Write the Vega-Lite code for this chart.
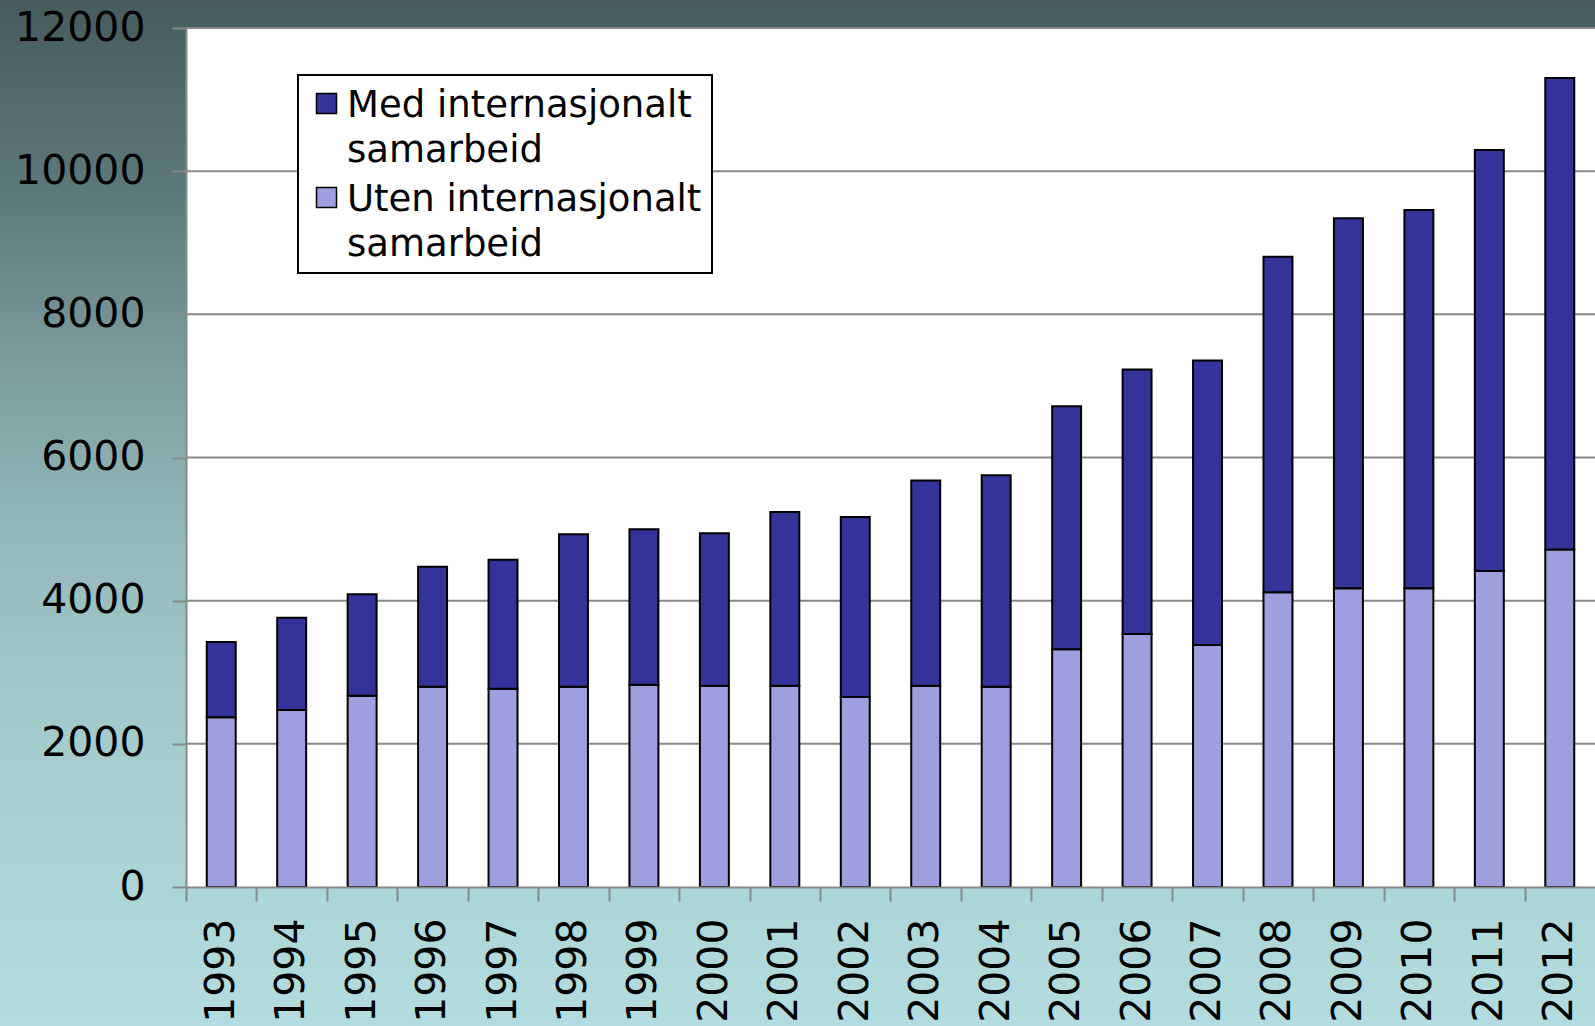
{
  "$schema": "https://vega.github.io/schema/vega-lite/v6.json",
  "width": 1409,
  "height": 859,
  "autosize": {"type": "none"},
  "padding": {"left": 186, "top": 28, "right": 0, "bottom": 139},
  "background": "#8ab3b5",
  "config": {
    "view": {"stroke": null, "fill": null},
    "font": "DejaVu Sans",
    "axisX": {
      "labelAngle": -90,
      "labelFontSize": 41,
      "labelColor": "black",
      "labelPadding": 17,
      "tickSize": 14,
      "tickColor": "#888888",
      "tickWidth": 2,
      "domainColor": "#888888",
      "domainWidth": 2,
      "grid": false
    },
    "axisY": {
      "grid": false,
      "labelFontSize": 41,
      "labelColor": "black",
      "labelPadding": 27,
      "tickSize": 14,
      "tickColor": "#888888",
      "tickWidth": 2,
      "domainColor": "#888888",
      "domainWidth": 2
    }
  },
  "datasets": {
    "counts": [
      {"year": "1993", "serie": "Uten internasjonalt samarbeid", "value": 2371},
      {"year": "1993", "serie": "Med internasjonalt samarbeid", "value": 1051},
      {"year": "1994", "serie": "Uten internasjonalt samarbeid", "value": 2471},
      {"year": "1994", "serie": "Med internasjonalt samarbeid", "value": 1292},
      {"year": "1995", "serie": "Uten internasjonalt samarbeid", "value": 2670},
      {"year": "1995", "serie": "Med internasjonalt samarbeid", "value": 1420},
      {"year": "1996", "serie": "Uten internasjonalt samarbeid", "value": 2797},
      {"year": "1996", "serie": "Med internasjonalt samarbeid", "value": 1676},
      {"year": "1997", "serie": "Uten internasjonalt samarbeid", "value": 2769},
      {"year": "1997", "serie": "Med internasjonalt samarbeid", "value": 1804},
      {"year": "1998", "serie": "Uten internasjonalt samarbeid", "value": 2797},
      {"year": "1998", "serie": "Med internasjonalt samarbeid", "value": 2130},
      {"year": "1999", "serie": "Uten internasjonalt samarbeid", "value": 2826},
      {"year": "1999", "serie": "Med internasjonalt samarbeid", "value": 2172},
      {"year": "2000", "serie": "Uten internasjonalt samarbeid", "value": 2812},
      {"year": "2000", "serie": "Med internasjonalt samarbeid", "value": 2130},
      {"year": "2001", "serie": "Uten internasjonalt samarbeid", "value": 2812},
      {"year": "2001", "serie": "Med internasjonalt samarbeid", "value": 2428},
      {"year": "2002", "serie": "Uten internasjonalt samarbeid", "value": 2655},
      {"year": "2002", "serie": "Med internasjonalt samarbeid", "value": 2514},
      {"year": "2003", "serie": "Uten internasjonalt samarbeid", "value": 2812},
      {"year": "2003", "serie": "Med internasjonalt samarbeid", "value": 2868},
      {"year": "2004", "serie": "Uten internasjonalt samarbeid", "value": 2797},
      {"year": "2004", "serie": "Med internasjonalt samarbeid", "value": 2954},
      {"year": "2005", "serie": "Uten internasjonalt samarbeid", "value": 3323},
      {"year": "2005", "serie": "Med internasjonalt samarbeid", "value": 3394},
      {"year": "2006", "serie": "Uten internasjonalt samarbeid", "value": 3536},
      {"year": "2006", "serie": "Med internasjonalt samarbeid", "value": 3692},
      {"year": "2007", "serie": "Uten internasjonalt samarbeid", "value": 3380},
      {"year": "2007", "serie": "Med internasjonalt samarbeid", "value": 3976},
      {"year": "2008", "serie": "Uten internasjonalt samarbeid", "value": 4118},
      {"year": "2008", "serie": "Med internasjonalt samarbeid", "value": 4686},
      {"year": "2009", "serie": "Uten internasjonalt samarbeid", "value": 4175},
      {"year": "2009", "serie": "Med internasjonalt samarbeid", "value": 5169},
      {"year": "2010", "serie": "Uten internasjonalt samarbeid", "value": 4175},
      {"year": "2010", "serie": "Med internasjonalt samarbeid", "value": 5282},
      {"year": "2011", "serie": "Uten internasjonalt samarbeid", "value": 4416},
      {"year": "2011", "serie": "Med internasjonalt samarbeid", "value": 5879},
      {"year": "2012", "serie": "Uten internasjonalt samarbeid", "value": 4714},
      {"year": "2012", "serie": "Med internasjonalt samarbeid", "value": 6589}
    ],
    "gridlines": [
      {"v": 2000}, {"v": 4000}, {"v": 6000}, {"v": 8000}, {"v": 10000}, {"v": 12000}
    ],
    "frame": [{}]
  },
  "layer": [
    {
      "data": {"name": "frame"},
      "mark": {
        "type": "rect",
        "clip": false,
        "fill": {
          "gradient": "linear",
          "x1": 0, "y1": 0, "x2": 0, "y2": 1,
          "stops": [
            {"offset": 0, "color": "#445a5c"},
            {"offset": 0.014, "color": "#465c5e"},
            {"offset": 0.204, "color": "#5f7b7d"},
            {"offset": 0.346, "color": "#7c9b9c"},
            {"offset": 0.488, "color": "#90b6b7"},
            {"offset": 0.631, "color": "#a0c6c7"},
            {"offset": 0.773, "color": "#a9d2d3"},
            {"offset": 0.963, "color": "#b2dcdd"},
            {"offset": 1, "color": "#b3dddf"}
          ]
        }
      },
      "encoding": {
        "x": {"datum": "1993", "type": "ordinal", "bandPosition": -8, "axis": {"title": null, "zindex": 1, "tickOffset": -35.225, "labelOffset": 35.225}},
        "x2": {"datum": "2012", "bandPosition": 8},
        "y": {"datum": -2500, "type": "quantitative", "axis": {"title": null, "zindex": 1, "values": [0, 2000, 4000, 6000, 8000, 10000, 12000], "format": "d"}},
        "y2": {"datum": 12600}
      }
    },
    {
      "data": {"name": "frame"},
      "mark": {"type": "rect", "fill": "white"},
      "encoding": {
        "y": {"datum": 0, "type": "quantitative", "axis": {"title": null, "zindex": 1, "values": [0, 2000, 4000, 6000, 8000, 10000, 12000], "format": "d"}},
        "y2": {"datum": 12000}
      }
    },
    {
      "data": {"name": "gridlines"},
      "mark": {"type": "rule", "color": "#888888", "strokeWidth": 2},
      "encoding": {
        "y": {"field": "v", "type": "quantitative", "axis": {"title": null, "zindex": 1, "values": [0, 2000, 4000, 6000, 8000, 10000, 12000], "format": "d"}}
      }
    },
    {
      "data": {"name": "counts"},
      "mark": {"type": "bar", "stroke": "black", "strokeWidth": 2},
      "encoding": {
        "x": {
          "field": "year",
          "type": "ordinal",
          "scale": {"paddingInner": 0.589, "paddingOuter": 0.2945},
          "axis": {"title": null, "zindex": 1, "tickOffset": -35.225, "labelOffset": 35.225}
        },
        "y": {
          "field": "value",
          "type": "quantitative",
          "stack": "zero",
          "scale": {"domain": [0, 12000]},
          "axis": {"title": null, "zindex": 1, "values": [0, 2000, 4000, 6000, 8000, 10000, 12000], "format": "d"}
        },
        "color": {
          "field": "serie",
          "type": "nominal",
          "scale": {
            "domain": ["Med internasjonalt samarbeid", "Uten internasjonalt samarbeid"],
            "range": ["#333399", "#9f9fdf"]
          },
          "legend": {
            "title": null,
            "orient": "none",
            "legendX": 112,
            "legendY": 47,
            "fillColor": "white",
            "strokeColor": "black",
            "padding": 10,
            "symbolType": "square",
            "symbolSize": 400,
            "symbolStrokeColor": "black",
            "symbolStrokeWidth": 1.5,
            "symbolOpacity": 1,
            "labelFontSize": 37,
            "labelColor": "black",
            "labelOffset": 2,
            "labelLimit": 0,
            "labelBaseline": "alphabetic",
            "rowPadding": 10,
            "labelExpr": "datum.label == 'Med internasjonalt samarbeid' ? ['Med internasjonalt', 'samarbeid'] : ['Uten internasjonalt', 'samarbeid']",
            "encoding": {
              "labels": {"lineHeight": {"value": 45}, "dy": {"value": 13}},
              "legend": {"strokeWidth": {"value": 2}}
            }
          }
        },
        "order": {"field": "serie", "sort": "descending"}
      }
    }
  ]
}
